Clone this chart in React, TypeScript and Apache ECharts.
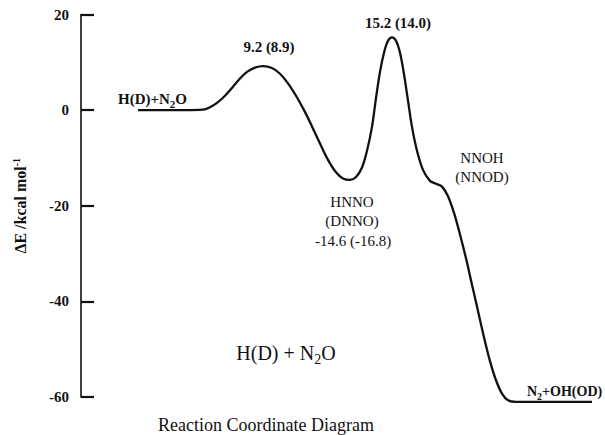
import React, { useEffect, useRef } from "react";
import * as echarts from "echarts";

// Reaction coordinate (arbitrary units) and energy (kcal/mol)
const reactionCoord: number[] = [
  14.25, 19.75, 26, 30.5, 32.25, 34, 36, 38, 39.75, 41.5, 43.5, 45.5, 47.75, 49.75,
  51.75, 53.75, 55.75, 57.75, 59.75, 61.75, 63.75, 65.5, 67.25, 68.75, 70.25,
  71.5, 72.75, 73.75, 74.75, 75.75, 76.75, 77.75, 78.75, 79.75, 80.75, 81.75, 82.75,
  84, 85.5, 87.25, 88.75, 90.25, 91.75, 93.25, 94.75, 96.25, 97.75, 99.25, 100.75,
  102.25, 103.75, 105.25, 106.75, 108.75, 127.75,
];
const energy: number[] = [
  0, 0, 0, 0.1, 0.6, 1.5, 3.0, 4.9, 6.6, 8.0, 8.9, 9.2, 8.8, 7.6,
  5.6, 3.0, 0.0, -3.4, -7.0, -10.4, -13.0, -14.3, -14.6, -14.0, -12.0,
  -8.5, -3.5, 2.5, 8.0, 12.0, 14.5, 15.2, 14.5, 12.0, 7.5, 2.0, -3.5,
  -8.5, -12.5, -14.8, -15.4, -16.0, -18.0, -21.5, -26, -31, -36.5, -42, -47.5,
  -52.5, -56.5, -59.3, -60.7, -61, -61,
];
const yTicks: number[] = [-60, -40, -20, 0, 20];

const FONT = "'Liberation Serif', 'Times New Roman', 'DejaVu Serif', serif";

export default function App() {
  const ref = useRef<HTMLDivElement>(null);
  useEffect(() => {
    document.body.style.margin = "0";
    const chart = echarts.init(ref.current!, undefined, { renderer: "svg" });
    const data = reactionCoord.map((x, i) => [x, energy[i]]);
    const txt = (x: number, y: number, text: string, size: number, weight: string, align = "center", rich?: any) => ({
      type: "text",
      x,
      y,
      style: {
        text,
        fontFamily: FONT,
        fontSize: size,
        fontWeight: weight,
        fill: "#111",
        align,
        verticalAlign: "middle",
        rich,
      },
    });
    const subRich = (size: number, weight: string) => ({
      a: { fontFamily: FONT, fontSize: size, fontWeight: weight, color: "#111", lineHeight: size + 4, verticalAlign: "bottom" },
      s: { fontFamily: FONT, fontSize: Math.round(size * 0.7), fontWeight: weight, color: "#111", lineHeight: size + 4, verticalAlign: "bottom", padding: [0, 0, -3, 0] },
    });
    chart.setOption({
      animation: false,
      grid: { left: 81, right: 0, top: 14.5, bottom: 38 },
      xAxis: {
        type: "value",
        min: 0,
        max: 131,
        show: false,
      },
      yAxis: {
        type: "value",
        min: yTicks[0],
        max: yTicks[yTicks.length - 1],
        interval: 20,
        name: "{a|ΔE /kcal mol}{b|-1}",
        nameLocation: "middle",
        nameRotate: 90,
        nameGap: 52,
        nameTextStyle: {
          rich: {
            a: { fontFamily: FONT, fontSize: 16, fontWeight: "bold", color: "#111" },
            b: { fontFamily: FONT, fontSize: 10, fontWeight: "bold", color: "#111", padding: [0, 0, 8, 0] },
          },
        },
        axisLine: { show: true, lineStyle: { color: "#111", width: 1.6 } },
        axisTick: { show: true, inside: true, length: 13, lineStyle: { color: "#111", width: 2.2 } },
        axisLabel: {
          margin: 12,
          fontFamily: FONT,
          fontSize: 15,
          fontWeight: "bold",
          color: "#111",
        },
        splitLine: { show: false },
      },
      series: [
        {
          type: "line",
          data,
          showSymbol: false,
          smooth: 0.35,
          clip: false,
          lineStyle: { color: "#111", width: 2.3 },
          silent: true,
        },
      ],
      graphic: [
        txt(118, 97, "{a|H(D)+N}{s|2}{a|O}", 15, "bold", "left", subRich(15, "bold")),
        txt(269, 47, "9.2 (8.9)", 15, "bold"),
        txt(398, 23, "15.2 (14.0)", 15, "bold"),
        txt(352, 202, "HNNO", 15, "normal"),
        txt(352, 221, "(DNNO)", 15, "normal"),
        txt(353, 241, "-14.6 (-16.8)", 15, "normal"),
        txt(482, 158, "NNOH", 15, "normal"),
        txt(482, 177, "(NNOD)", 15, "normal"),
        txt(527, 389, "{a|N}{s|2}{a|+OH(OD)}", 14, "bold", "left", subRich(14, "bold")),
        txt(286, 351, "{a|H(D) + N}{s|2}{a|O}", 20, "normal", "center", subRich(20, "normal")),
        txt(266, 425, "Reaction Coordinate Diagram", 18, "normal"),
      ],
    });
    return () => chart.dispose();
  }, []);
  return <div ref={ref} style={{ width: 605, height: 435 }} />;
}
